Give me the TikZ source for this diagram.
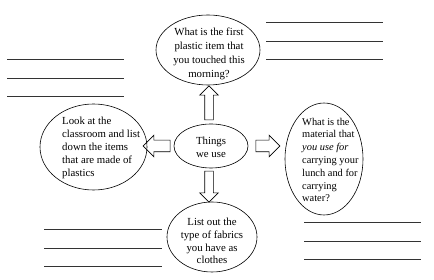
\documentclass[tikz,border=0pt]{standalone}
\usepackage{fontspec}
\setmainfont{Liberation Serif}
\usetikzlibrary{shapes.geometric,shapes.arrows}
\tikzset{
  bubble/.style={ellipse, draw=black, line width=0.6pt, inner sep=0pt},
  txt/.style={font=\fontsize{10.8}{13}\selectfont, inner sep=0pt, text=black},
  blockarrow/.style={single arrow, draw=black, line width=0.6pt, inner xsep=0pt,
     inner ysep=4pt, minimum width=18pt, single arrow head extend=5pt,
     single arrow tip angle=90},
  hblockarrow/.style={blockarrow, inner ysep=5.5pt, minimum width=21pt, single arrow head extend=5pt},
  answerline/.style={draw=black!80, line width=0.8pt}
}
\begin{document}
\begin{tikzpicture}[x=1pt,y=-1pt]
\useasboundingbox (0,0) rectangle (434,280);
% ellipses
\node[bubble, minimum width=104pt, minimum height=70pt] (top) at (208,50) {};
\node[bubble, minimum width=74pt, minimum height=44pt] (mid) at (211,146) {};
\node[bubble, minimum width=107pt, minimum height=86pt] (left) at (93.5,147) {};
\node[bubble, minimum width=78pt, minimum height=112pt] (right) at (324,159) {};
\node[bubble, minimum width=90pt, minimum height=70pt] (bottom) at (212,237) {};
% texts
\node[txt, align=center, font=\fontsize{10.8}{14.2}\selectfont] (toptext) at (209,54) {What is the first\\plastic item that\\you touched this\\morning?};
\node[txt, align=center] (midtext) at (211,147) {Things\\we use};
\node[txt, align=left, anchor=west] (lefttext) at (62,148) {Look at the\\classroom and list\\down the items\\that are made of\\plastics};
\node[txt, align=left, anchor=west, font=\fontsize{10.4}{12.8}\selectfont] (righttext) at (302,160) {What is the\\material that\\\textit{you use for}\\carrying your\\lunch and for\\carrying\\water?};
\node[txt, align=center, font=\fontsize{10.8}{12.7}\selectfont] (bottomtext) at (212,241) {List out the\\type of fabrics\\you have as\\clothes};
% block arrows
\node[blockarrow, minimum height=34pt, rotate=90] (aup) at (209,105) {};
\node[blockarrow, minimum height=31pt, rotate=-90] (adown) at (209,184.5) {};
\node[hblockarrow, minimum height=27pt, rotate=180] (aleft) at (159.5,146) {};
\node[hblockarrow, minimum height=24pt] (aright) at (265,146) {};
% answer lines
\foreach \y in {59,78,96} \draw[answerline] (7,\y) -- (124,\y);
\foreach \y in {22,41,59} \draw[answerline] (266,\y) -- (383,\y);
\foreach \y in {229,248,266} \draw[answerline] (44,\y) -- (162,\y);
\foreach \y in {222,241,259} \draw[answerline] (304,\y) -- (421,\y);
\end{tikzpicture}
\end{document}
